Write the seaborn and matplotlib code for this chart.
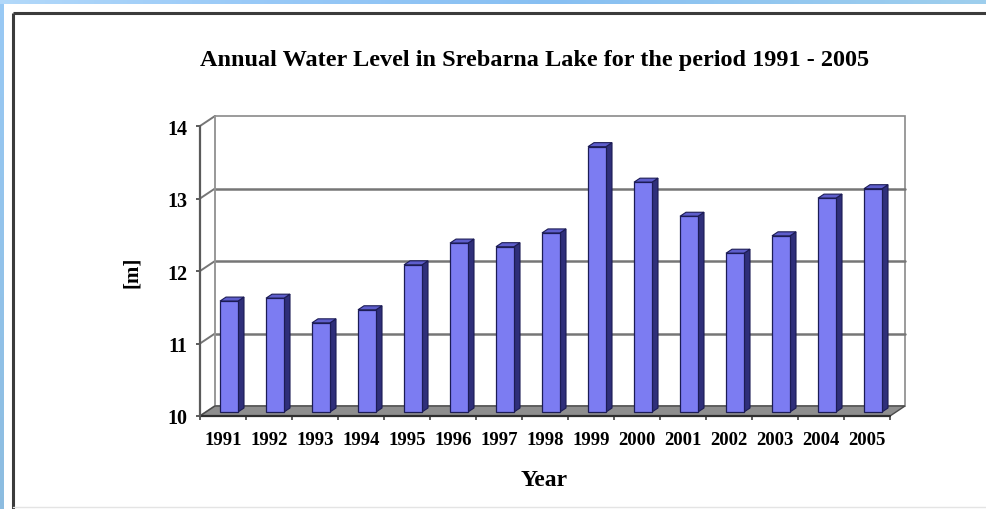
import numpy as np
import pandas as pd
import matplotlib
matplotlib.use("Agg")
import matplotlib.pyplot as plt
import seaborn as sns
from matplotlib.patches import Polygon, Rectangle
from matplotlib.ticker import FixedLocator

# ---- data -------------------------------------------------------------
years = ["1991", "1992", "1993", "1994", "1995", "1996", "1997", "1998",
         "1999", "2000", "2001", "2002", "2003", "2004", "2005"]
levels = [11.53, 11.57, 11.23, 11.41, 12.03, 12.33, 12.28, 12.47,
          13.66, 13.17, 12.70, 12.19, 12.43, 12.95, 13.08]
y_ticks = [10, 11, 12, 13, 14]
title = "Annual Water Level in Srebarna Lake for the period 1991 - 2005"
x_title = "Year"
y_title = "[m]"

# ---- style ------------------------------------------------------------
sns.set_theme(style="white")
plt.rcParams["font.family"] = ["Liberation Serif", "DejaVu Serif"]

FRONT = "#7c7cf2"
SIDE = "#2f2f7a"
TOP = "#5e5ecc"
EDGE = "#1c1c55"
GRID = "#767676"

W, H, DPI = 986, 510, 100
fig = plt.figure(figsize=(W / DPI, H / DPI), dpi=DPI, facecolor="white")

# page backdrop: thin blue bands along the top and left, then a framed panel
bg = fig.add_axes([0, 0, 1, 1], zorder=-10)
img = np.ones((H, W, 3))
xs = np.arange(W)
stops_x = [0, 250, 550, W - 1]
stops_c = np.array([[0.70, 0.85, 0.98], [0.60, 0.79, 0.97],
                    [0.53, 0.75, 0.95], [0.62, 0.81, 0.93]])
band = np.stack([np.interp(xs, stops_x, stops_c[:, k]) for k in range(3)], axis=1)
img[0:5, :, :] = band[None, :, :]
ys = np.arange(H)
left = np.stack([np.interp(ys, [0, H - 1], [a, b]) for a, b in
                 zip([0.60, 0.79, 0.96], [0.55, 0.74, 0.88])], axis=1)
img[5:, 0:4, :] = left[5:, None, :]
bg.imshow(img, aspect="auto", extent=(0, W, H, 0), interpolation="nearest")
bg.plot([13, W], [14, 14], color="#3c3c3c", lw=2.2, solid_capstyle="butt")
bg.plot([13, 13], [14, H], color="#3c3c3c", lw=2.2, solid_capstyle="butt")
bg.plot([13, W], [508, 508], color="#e4e4e4", lw=1)
bg.set_xlim(0, W)
bg.set_ylim(H, 0)
bg.axis("off")

# ---- main axes (front plane of the 3-D box) ---------------------------
ax = fig.add_axes([200 / W, 93 / H, 690 / W, 290 / H])
ax.set_facecolor("none")

df = pd.DataFrame({"Year": years, "Level": levels})
sns.barplot(data=df, x="Year", y="Level", color=FRONT, saturation=1,
            width=18 / 46, edgecolor=EDGE, linewidth=0.9, ax=ax, zorder=5)

BASE = y_ticks[0]
ax.set_xlim(-0.5, len(years) - 0.5)
ax.set_ylim(BASE, y_ticks[-1])

# depth of the box in data units (15 px right, 10 px up)
DX = 15 / 46
DY = 10 / 72.5
BAR_OFF = 0.4      # bars start 40 % into the depth
BAR_DEPTH = 0.4    # and are 40 % of the depth deep

x0, x1 = -0.5, len(years) - 0.5
y1 = y_ticks[-1]

# back wall and its grid
ax.add_patch(Rectangle((x0 + DX, BASE + DY), x1 - x0, y1 - BASE, fc="white",
                       ec="#8a8a8a", lw=1.2, zorder=1, clip_on=False))
for v in y_ticks[1:-1]:
    ax.plot([x0 + DX, x1 + DX], [v + DY, v + DY], color=GRID, lw=1.8,
            zorder=1.5, clip_on=False)
# left side wall: diagonals from the value axis back to the wall
for v in y_ticks:
    ax.plot([x0, x0 + DX], [v, v + DY], color=GRID, lw=1.4, zorder=1.5,
            clip_on=False)
ax.plot([x0 + DX, x0 + DX], [BASE + DY, y1 + DY], color="#9a9a9a", lw=1.2,
        zorder=1.5, clip_on=False)
# floor
ax.add_patch(Polygon([(x0, BASE), (x1, BASE), (x1 + DX, BASE + DY),
                      (x0 + DX, BASE + DY)], closed=True, fc="#8e8e8e",
                     ec="#4a4a4a", lw=1.0, zorder=2, clip_on=False))
ax.plot([x0, x1], [BASE, BASE], color="#2e2e2e", lw=1.6, zorder=2.5,
        clip_on=False)
# value axis line
ax.plot([x0, x0], [BASE, y1], color="#5a5a5a", lw=1.6, zorder=2.5,
        clip_on=False)

# bars: move each front face into the box and add side / top faces
for rect, val in zip(ax.patches[:len(levels)], levels):
    xl = rect.get_x() + BAR_OFF * DX
    w = rect.get_width()
    yb = BASE + BAR_OFF * DY
    yt = val + BAR_OFF * DY
    rect.set_x(xl)
    rect.set_y(yb)
    rect.set_height(yt - yb)
    rect.set_clip_on(False)
    xr = xl + w
    ddx, ddy = BAR_DEPTH * DX, BAR_DEPTH * DY
    ax.add_patch(Polygon([(xr, yb), (xr, yt), (xr + ddx, yt + ddy),
                          (xr + ddx, yb + ddy)], closed=True, fc=SIDE,
                         ec=EDGE, lw=0.8, zorder=4.9, clip_on=False))
    ax.add_patch(Polygon([(xl, yt), (xr, yt), (xr + ddx, yt + ddy),
                          (xl + ddx, yt + ddy)], closed=True, fc=TOP,
                         ec=EDGE, lw=0.8, zorder=4.9, clip_on=False))

for s in ax.spines.values():
    s.set_visible(False)

# ticks
ax.set_yticks(y_ticks)
ax.set_yticklabels([str(t) for t in y_ticks])
ax.tick_params(axis="y", left=True, length=3, width=1.2, color="#404040",
               pad=6, labelsize=14.5)
ax.tick_params(axis="x", bottom=True, length=0, pad=11, labelsize=13.5)
ax.xaxis.set_minor_locator(FixedLocator(np.arange(-0.5, len(years), 1.0)))
ax.tick_params(axis="x", which="minor", bottom=True, length=3, width=1.2,
               color="#404040")
for lab in ax.get_xticklabels() + ax.get_yticklabels():
    lab.set_fontweight("bold")
    lab.set_color("black")

ax.set_xlabel(x_title, fontsize=17, fontweight="bold", color="black")
ax.xaxis.set_label_coords((544 - 200) / 690, (417 - 481) / 290)
ax.xaxis.label.set_va("center")
ax.set_ylabel(y_title, fontsize=15, fontweight="bold", color="black")
ax.yaxis.set_label_coords((142 - 200) / 690, 0.5)

ax.set_title(title, fontsize=17.5, fontweight="bold", color="black",
             x=(535 - 200) / 690, y=(417 - 60) / 290, va="center", pad=0)

fig.savefig("out.png", dpi=DPI, facecolor="white")
